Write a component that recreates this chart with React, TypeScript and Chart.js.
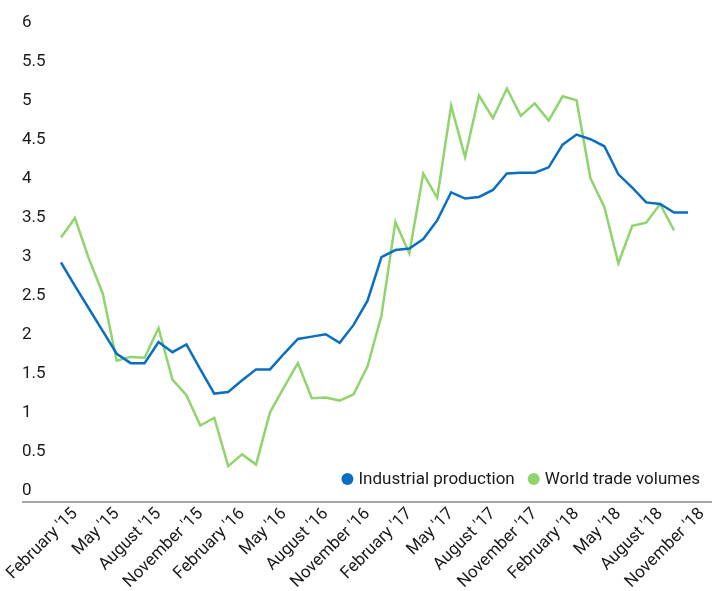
import React, { useEffect, useRef } from 'react';
import { Chart, registerables } from 'chart.js';

Chart.register(...registerables);

const months: string[] = [
  "February '15", "March '15", "April '15", "May '15", "June '15", "July '15",
  "August '15", "September '15", "October '15", "November '15", "December '15", "January '16",
  "February '16", "March '16", "April '16", "May '16", "June '16", "July '16",
  "August '16", "September '16", "October '16", "November '16", "December '16", "January '17",
  "February '17", "March '17", "April '17", "May '17", "June '17", "July '17",
  "August '17", "September '17", "October '17", "November '17", "December '17", "January '18",
  "February '18", "March '18", "April '18", "May '18", "June '18", "July '18",
  "August '18", "September '18", "October '18", "November '18",
];

const industrialProduction: (number | null)[] = [
  2.93, 2.63, 2.34, 2.05, 1.76, 1.64, 1.64, 1.91, 1.78, 1.88, 1.56, 1.25,
  1.27, 1.42, 1.56, 1.56, 1.76, 1.95, 1.98, 2.01, 1.90, 2.13, 2.44, 3.00,
  3.09, 3.11, 3.23, 3.47, 3.83, 3.75, 3.77, 3.86, 4.07, 4.08, 4.08, 4.15,
  4.44, 4.57, 4.51, 4.42, 4.06, 3.89, 3.70, 3.68, 3.57, 3.57,
];

const worldTradeVolumes: (number | null)[] = [
  3.25, 3.50, 2.98, 2.53, 1.67, 1.72, 1.71, 2.09, 1.43, 1.23, 0.84, 0.94,
  0.32, 0.47, 0.34, 1.01, 1.33, 1.64, 1.19, 1.20, 1.16, 1.24, 1.60, 2.25,
  3.45, 3.05, 4.07, 3.76, 4.94, 4.28, 5.07, 4.78, 5.16, 4.81, 4.97, 4.75,
  5.06, 5.01, 4.01, 3.64, 2.92, 3.40, 3.44, 3.68, 3.34, null,
];

const yTicks: number[] = [0, 0.5, 1, 1.5, 2, 2.5, 3, 3.5, 4, 4.5, 5, 5.5, 6];

const seriesNames = ['Industrial production', 'World trade volumes'];
const BLUE = '#0a6fc1';
const GREEN = '#8fd46c';
const FONT = 'Roboto, "Noto Sans", sans-serif';

const axisLinePlugin = {
  id: 'axisLine',
  afterDraw(chart: any) {
    const { ctx, chartArea } = chart;
    const yScale = chart.scales.y;
    ctx.save();
    ctx.strokeStyle = '#a6a6a6';
    ctx.lineWidth = 2;
    ctx.beginPath();
    ctx.moveTo(yScale.left, chartArea.bottom);
    ctx.lineTo(chart.width, chartArea.bottom);
    ctx.stroke();
    ctx.restore();
  },
};

const legendPlugin = {
  id: 'innerLegend',
  afterDraw(chart: any) {
    const { ctx, chartArea } = chart;
    const datasets = chart.data.datasets;
    ctx.save();
    ctx.font = `17px ${FONT}`;
    ctx.textBaseline = 'middle';
    ctx.textAlign = 'left';
    const r = 6;
    const gapDotText = 5;
    const gapItems = 13;
    const widths = datasets.map((d: any) => ctx.measureText(d.label).width);
    let total = 0;
    widths.forEach((w: number, i: number) => {
      total += r * 2 + gapDotText + w + (i < widths.length - 1 ? gapItems : 0);
    });
    const yc = chartArea.bottom - 23;
    let x = chart.width - 12 - total;
    datasets.forEach((d: any, i: number) => {
      ctx.fillStyle = d.borderColor;
      ctx.beginPath();
      ctx.arc(x + r, yc, r, 0, Math.PI * 2);
      ctx.fill();
      x += r * 2 + gapDotText;
      ctx.fillStyle = '#1a1a1a';
      ctx.fillText(d.label, x, yc + 1);
      x += widths[i] + gapItems;
    });
    ctx.restore();
  },
};

export default function App() {
  const canvasRef = useRef<HTMLCanvasElement | null>(null);

  useEffect(() => {
    document.body.style.margin = '0';
    const canvas = canvasRef.current;
    if (!canvas) return;
    const chart = new Chart(canvas, {
      type: 'line',
      data: {
        labels: months,
        datasets: [
          {
            label: seriesNames[0],
            data: industrialProduction,
            borderColor: BLUE,
            backgroundColor: BLUE,
            borderWidth: 2.5,
            pointRadius: 0,
            tension: 0,
          },
          {
            label: seriesNames[1],
            data: worldTradeVolumes,
            borderColor: GREEN,
            backgroundColor: GREEN,
            borderWidth: 2.5,
            pointRadius: 0,
            tension: 0,
          },
        ],
      },
      options: {
        animation: false,
        responsive: false,
        maintainAspectRatio: false,
        layout: { padding: { left: 22, right: 24, top: 23, bottom: 0 } },
        plugins: {
          legend: { display: false },
          tooltip: { enabled: false },
        },
        scales: {
          x: {
            grid: { display: false },
            border: { display: false },
            ticks: {
              autoSkip: false,
              maxRotation: 45,
              minRotation: 45,
              padding: -6,
              labelOffset: 14,
              color: '#1a1a1a',
              font: { family: FONT, size: 17 },
              callback: (_v: any, i: number) => (i % 3 === 0 ? months[i] : ''),
            },
            afterFit: (s: any) => {
              s.height = 89;
              s.paddingLeft = 0;
              s.paddingRight = 0;
            },
          },
          y: {
            min: -0.14,
            max: 6,
            grid: { display: false },
            border: { display: false },
            afterBuildTicks: (s: any) => {
              s.ticks = yTicks.map((v) => ({ value: v }));
            },
            ticks: {
              crossAlign: 'far',
              padding: 0,
              color: '#1a1a1a',
              font: { family: FONT, size: 17 },
              callback: (v: any) => String(v),
            },
            afterFit: (s: any) => {
              s.width = 39;
            },
          },
        },
      },
      plugins: [axisLinePlugin, legendPlugin],
    });
    return () => chart.destroy();
  }, []);

  return (
    <div style={{ width: 712, height: 591 }}>
      <canvas ref={canvasRef} width={712} height={591} style={{ display: 'block' }} />
    </div>
  );
}
